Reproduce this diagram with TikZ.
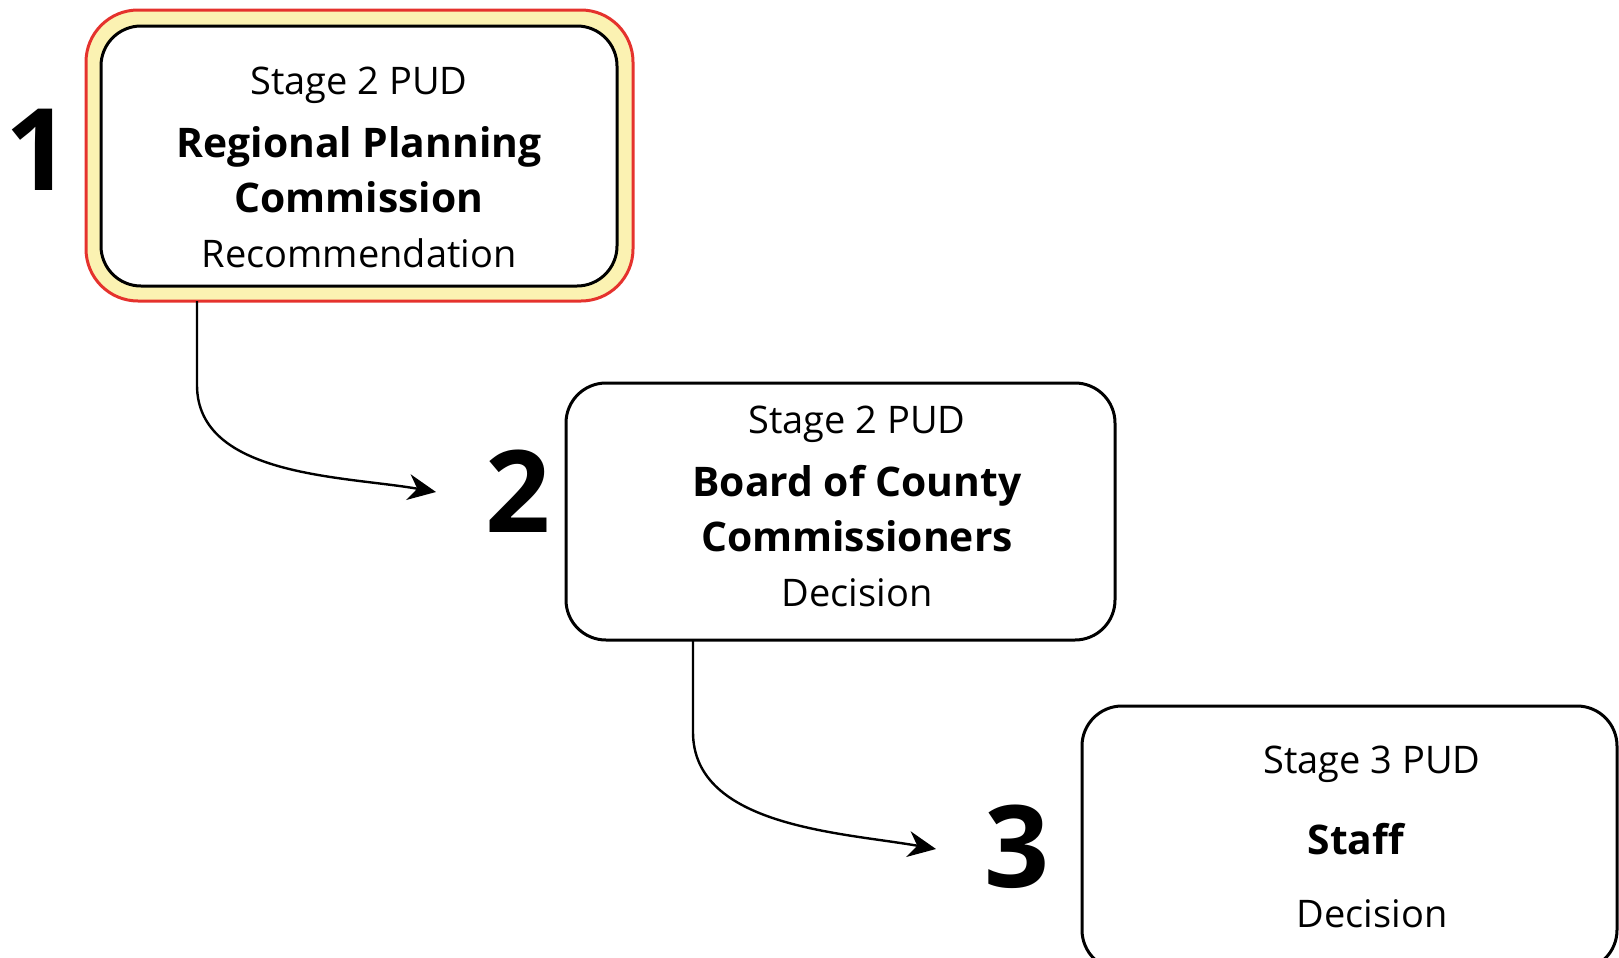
\documentclass[tikz,border=0pt]{standalone}
\usepackage{fontspec}
\setmainfont{Open Sans}
\usetikzlibrary{arrows.meta}
\definecolor{hlred}{HTML}{E5322D}
\definecolor{hlyellow}{HTML}{FBF2B2}
\tikzset{
  stagebox/.style={draw=black, line width=1.5pt, rounded corners=20pt, fill=white, inner sep=0pt, outer sep=0pt},
  hlbox/.style={draw=hlred, line width=1.5pt, rounded corners=26pt, fill=hlyellow, inner sep=0pt, outer sep=0pt},
  stagetext/.style={font=\fontsize{19}{24}\selectfont},
  nametext/.style={font=\fontsize{20.4}{24}\selectfont\bfseries},
  stepnum/.style={font=\fontsize{57}{60}\selectfont\bfseries},
  flow/.style={line width=1.2pt, -{Stealth[length=14pt,width=13pt,inset=4.5pt]}}
}
\begin{document}
\begin{tikzpicture}[x=0.5pt, y=-0.5pt]
\useasboundingbox (0,0) rectangle (1619,958);

% Step 1
\node[hlbox, minimum width=273.5pt, minimum height=145.5pt] (hl1) at (359.5,155.5) {};
\node[stagebox, minimum width=258pt, minimum height=130pt] (box1) at (359,156) {};
\node[stagetext] (stage1) at (359,85) {Stage 2 PUD};
\node[nametext] (name1a) at (359,147) {Regional Planning};
\node[nametext] (name1b) at (359,197) {Commission};
\node[stagetext] (act1) at (359,253) {Recommendation};
\node[stepnum] (num1) at (38,150) {1};

% Step 2
\node[stagebox, minimum width=274.5pt, minimum height=128.5pt] (box2) at (840.5,511.5) {};
\node[stagetext] (stage2) at (857,424) {Stage 2 PUD};
\node[nametext] (name2a) at (857,486) {Board of County};
\node[nametext] (name2b) at (857,536) {Commissioners};
\node[stagetext] (act2) at (857,593) {Decision};
\node[stepnum] (num2) at (518,491) {2};

% Step 3
\node[stagebox, minimum width=267.5pt, minimum height=132pt] (box3) at (1349.5,838) {};
\node[stagetext] (stage3) at (1372,764) {Stage 3 PUD};
\node[nametext] (name3) at (1356,839) {Staff};
\node[stagetext] (act3) at (1372,914) {Decision};
\node[stepnum] (num3) at (1017,847) {3};

% Arrows
\coordinate (tip1) at (436,492);
\coordinate (tip2) at (936,849);
\draw[flow] ([xshift=55.5pt]hl1.south west) -- ++(0,-42pt) to[out=-90, in=170, looseness=0.9] (tip1);
\draw[flow] ([xshift=63.5pt]box2.south west) -- ++(0,-46pt) to[out=-90, in=170, looseness=0.9] (tip2);

\end{tikzpicture}
\end{document}
